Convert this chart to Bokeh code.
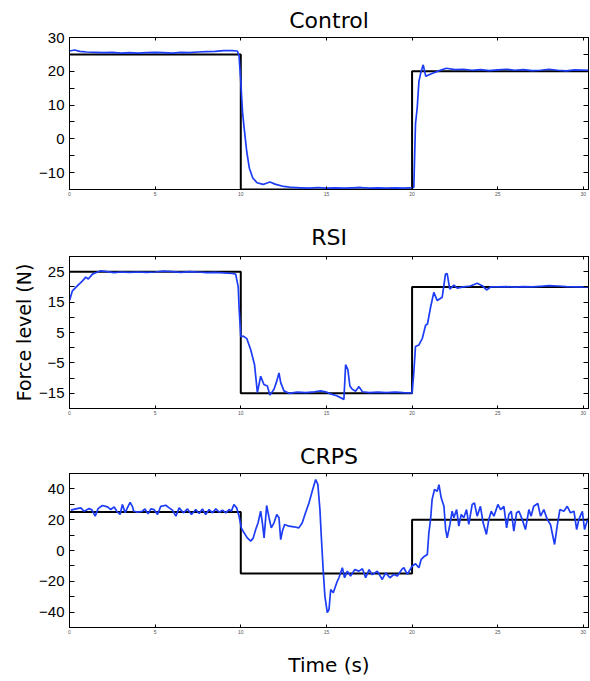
from bokeh.plotting import figure
from bokeh.models import LinearAxis, FixedTicker, Range1d
from bokeh.layouts import column
from bokeh.embed import file_html
from bokeh.resources import INLINE

# ---------------- data ----------------
x_ticks = [0, 5, 10, 15, 20, 25, 30]

step_t = [0, 10, 10, 20, 20, 30.3]
step_f = [25, 25, -15, -15, 20, 20]

ctrl_t = [0, 0.3, 0.6, 1.0, 1.5, 2.0, 2.5, 3.0, 3.5, 4.0,
          4.5, 5.0, 5.5, 6.0, 6.5, 7.0, 7.5, 8.0, 8.5, 9.0,
          9.5, 9.8, 9.9, 10.0, 10.1, 10.2, 10.35, 10.5, 10.7, 10.95,
          11.3, 11.7, 12.0, 12.5, 13.0, 13.5, 14.0, 14.5, 15.0, 15.5,
          16.0, 16.5, 17.0, 17.5, 18.0, 18.5, 19.0, 19.5, 20.1, 20.15,
          20.2, 20.3, 20.4, 20.5, 20.65, 20.8, 21.2, 21.6, 22.0, 22.5,
          23.0, 23.5, 24.0, 24.5, 25.0, 25.5, 26.0, 26.5, 27.0, 27.5,
          28.0, 28.5, 29.0, 29.5, 30.3]
ctrl_f = [26.0, 26.3, 25.9, 25.7, 25.6, 25.5, 25.6, 25.4, 25.5, 25.4,
          25.5, 25.6, 25.5, 25.4, 25.6, 25.5, 25.7, 25.8, 25.9, 26.1,
          26.1, 26.0, 24.5, 17.0, 8.0, 3.0, -3.9, -8.7, -11.6, -13.0,
          -13.5, -12.8, -13.4, -14.1, -14.4, -14.5, -14.6, -14.4, -14.6, -14.5,
          -14.6, -14.5, -14.4, -14.6, -14.5, -14.6, -14.5, -14.6, -14.4, -5.0,
          4.5, 9.2, 17.0, 19.4, 21.9, 18.5, 19.4, 20.2, 20.9, 20.5,
          20.6, 20.3, 20.5, 20.2, 20.4, 20.6, 20.3, 20.5, 20.2, 20.3,
          20.6, 20.3, 20.1, 20.4, 20.3]

rsi_t = [0, 0.17, 0.47, 0.76, 0.95, 1.1, 1.34, 1.6, 1.83, 2.2,
         2.6, 3.0, 3.5, 4.0, 4.5, 5.0, 5.5, 6.0, 6.5, 7.0,
         7.5, 8.0, 8.5, 9.0, 9.5, 9.7, 9.85, 9.9, 10.0, 10.15,
         10.35, 10.58, 10.8, 10.97, 11.16, 11.35, 11.55, 11.7, 11.94, 12.1,
         12.23, 12.33, 12.52, 12.81, 13.3, 13.8, 14.3, 14.66, 15.0, 15.24,
         15.6, 16.02, 16.12, 16.25, 16.37, 16.51, 16.7, 16.9, 17.1, 17.5,
         18.0, 18.5, 19.0, 19.5, 20.0, 20.1, 20.2, 20.4, 20.6, 20.79,
         20.9, 21.08, 21.27, 21.47, 21.76, 21.95, 22.05, 22.2, 22.44, 22.64,
         23.0, 23.4, 23.8, 24.1, 24.35, 24.6, 25.0, 25.5, 26.0, 26.5,
         27.0, 27.5, 28.0, 28.5, 29.0, 29.5, 30.3]
rsi_f = [15.5, 18.7, 20.4, 22.0, 23.2, 22.6, 24.2, 24.8, 25.3, 25.0,
         24.7, 24.9, 24.8, 24.9, 24.8, 24.9, 25.2, 25.0, 24.8, 25.0,
         24.9, 24.7, 24.8, 24.6, 24.4, 24.2, 20.0, 13.3, 3.6, 3.8,
         3.0, -0.7, -5.5, -14.8, -9.4, -12.1, -12.6, -15.6, -13.7, -11.0,
         -8.3, -11.5, -14.2, -15.0, -14.6, -14.8, -14.5, -14.2, -14.6, -15.2,
         -15.8, -17.0, -5.6, -7.2, -12.6, -13.7, -14.3, -12.8, -14.5, -14.8,
         -14.6, -14.8, -14.6, -14.8, -14.9, -8.3, 0.4, 0.9, 3.1, 7.4,
         7.8, 13.3, 18.2, 15.5, 16.6, 24.2, 24.4, 19.3, 20.6, 19.6,
         20.0, 20.3, 21.2, 20.4, 19.0, 20.0, 20.0, 20.1, 19.9, 20.1,
         20.0, 20.2, 20.4, 20.3, 20.1, 20.0, 20.0]

crps_t = [0.08, 0.37, 0.66, 0.85, 1.15, 1.3, 1.5, 1.67, 1.92, 2.22,
          2.41, 2.61, 2.76, 2.95, 3.09, 3.25, 3.38, 3.54, 3.67, 3.75,
          3.97, 4.26, 4.4, 4.59, 4.75, 4.94, 5.14, 5.33, 5.62, 5.82,
          6.01, 6.21, 6.4, 6.65, 6.89, 7.12, 7.37, 7.57, 7.76, 7.95,
          8.15, 8.35, 8.54, 8.74, 8.93, 9.12, 9.32, 9.45, 9.6, 9.76,
          9.9, 10.03, 10.19, 10.38, 10.58, 10.73, 10.87, 11.01, 11.16, 11.26,
          11.36, 11.51, 11.65, 11.78, 11.94, 12.1, 12.23, 12.33, 12.43, 12.56,
          12.81, 13.1, 13.39, 13.59, 13.78, 13.98, 14.17, 14.37, 14.5, 14.62,
          14.7, 14.81, 14.91, 15.05, 15.15, 15.25, 15.4, 15.6, 15.73, 15.93,
          16.06, 16.22, 16.41, 16.65, 16.9, 17.1, 17.29, 17.49, 17.68, 17.97,
          18.26, 18.46, 18.71, 18.94, 19.14, 19.43, 19.52, 19.72, 20.01, 20.2,
          20.4, 20.53, 20.73, 20.89, 20.98, 21.08, 21.17, 21.31, 21.47, 21.57,
          21.7, 21.86, 21.96, 22.05, 22.21, 22.34, 22.44, 22.6, 22.73, 22.87,
          23.02, 23.18, 23.31, 23.51, 23.64, 23.8, 23.99, 24.15, 24.34, 24.48,
          24.62, 24.78, 25.01, 25.17, 25.36, 25.52, 25.65, 25.79, 25.94, 26.1,
          26.24, 26.43, 26.62, 26.82, 26.95, 27.1, 27.34, 27.5, 27.69, 27.89,
          28.08, 28.32, 28.47, 28.63, 28.86, 29.06, 29.25, 29.45, 29.61, 29.74,
          29.94, 30.07, 30.19, 30.3]
crps_f = [26.2, 27.0, 27.7, 25.5, 27.2, 26.5, 22.3, 27.2, 29.2, 28.3,
          26.6, 28.3, 25.5, 23.4, 29.9, 24.5, 27.7, 31.3, 28.7, 25.5,
          24.9, 25.5, 27.0, 23.8, 27.0, 26.5, 23.4, 28.7, 29.4, 27.7,
          26.2, 22.3, 27.7, 24.5, 27.0, 23.4, 26.6, 24.0, 27.0, 23.4,
          26.6, 24.5, 27.0, 24.9, 26.2, 24.5, 26.6, 25.5, 29.9, 27.7,
          22.3, 14.7, 11.5, 8.2, 6.1, 8.2, 13.6, 18.0, 25.5, 18.0,
          8.2, 29.2, 21.3, 14.7, 18.0, 23.4, 21.3, 7.1, 12.6, 16.9,
          15.8, 15.4, 14.7, 18.0, 24.5, 30.9, 38.5, 46.1, 42.8, 26.6,
          9.3, -12.4, -29.6, -40.4, -38.3, -25.3, -27.4, -20.9, -17.7, -11.2,
          -17.7, -13.4, -16.6, -12.4, -13.4, -11.9, -17.7, -12.4, -15.7, -13.4,
          -18.8, -14.5, -17.7, -15.5, -16.6, -11.9, -11.2, -15.5, -10.1, -8.6,
          -11.2, -5.8, -3.7, -2.6, 11.5, 20.2, 33.1, 39.6, 38.5, 42.8,
          34.2, 28.8, 13.6, 8.2, 16.9, 25.5, 21.3, 26.6, 15.8, 23.4,
          21.3, 26.6, 16.9, 29.9, 30.9, 22.3, 28.7, 18.0, 10.4, 20.2,
          25.5, 22.3, 29.9, 26.6, 28.7, 14.7, 23.4, 25.5, 12.6, 24.5,
          25.5, 20.2, 13.6, 26.6, 22.3, 28.7, 30.5, 22.3, 26.6, 20.2,
          16.9, 3.9, 15.8, 26.6, 25.5, 28.7, 24.5, 25.5, 13.6, 20.2,
          25.5, 13.6, 18.0, 21.3]

ctrl_major = [-10, 0, 10, 20, 30]
ctrl_minor = [-15, -5, 5, 15, 25]
rsi_major = [-15, -5, 5, 15, 25]
rsi_minor = [-20, -10, 0, 10, 20, 30]
crps_major = [-40, -20, 0, 20, 40]
crps_minor = [-50, -30, -10, 10, 30, 50]

BLUE = "#1c3cf5"
FONT_T = "DejaVu Sans"
FONT_N = "Liberation Sans"


def panel(height, b_top, b_bottom, yr, major, minor, t, f, title, title_standoff):
    p = figure(width=590, height=height, x_range=Range1d(0, 30.3), y_range=Range1d(*yr),
               output_backend="svg", toolbar_location=None,
               min_border_left=69, min_border_right=2,
               min_border_top=b_top, min_border_bottom=b_bottom,
               x_axis_location=None, y_axis_location=None)
    p.grid.visible = False
    p.outline_line_color = "black"
    p.outline_line_width = 1
    p.background_fill_color = "white"
    p.border_fill_color = "white"

    p.title.text = title
    p.title.align = "center"
    p.title.text_font = FONT_T
    p.title.text_font_size = "22px"
    p.title.text_font_style = "normal"
    p.title.text_color = "black"
    p.title.standoff = title_standoff

    xb = LinearAxis(ticker=FixedTicker(ticks=x_ticks), major_tick_in=3, major_tick_out=0,
                    minor_tick_in=0, minor_tick_out=0, major_label_standoff=2,
                    major_label_text_font_size="5px", major_label_text_color="#555555",
                    axis_line_color="black")
    p.add_layout(xb, "below")
    xt = LinearAxis(ticker=FixedTicker(ticks=x_ticks), major_tick_in=3, major_tick_out=0,
                    minor_tick_in=0, minor_tick_out=0, major_label_standoff=0,
                    major_label_overrides={v: "" for v in x_ticks}, axis_line_color="black")
    p.add_layout(xt, "above")
    yl = LinearAxis(ticker=FixedTicker(ticks=major, minor_ticks=minor),
                    major_tick_in=5, major_tick_out=0, minor_tick_in=5, minor_tick_out=0,
                    major_label_standoff=5, major_label_text_font=FONT_N,
                    major_label_text_font_size="15px", major_label_text_color="black",
                    axis_line_color="black")
    p.add_layout(yl, "left")
    allt = sorted(major + minor)
    yrr = LinearAxis(ticker=FixedTicker(ticks=allt), major_tick_in=5, major_tick_out=0,
                     minor_tick_in=0, minor_tick_out=0, major_label_standoff=0,
                     major_label_overrides={v: "" for v in allt}, axis_line_color="black")
    p.add_layout(yrr, "right")

    p.line(step_t, step_f, line_color="black", line_width=2)
    p.line(t, f, line_color=BLUE, line_width=1.7)
    return p, xb, yl


p1, _, _ = panel(215, 37, 26, (-15, 30), ctrl_major, ctrl_minor, ctrl_t, ctrl_f, "Control", 9)
p2, _, yl2 = panel(217, 41, 24, (-20, 30), rsi_major, rsi_minor, rsi_t, rsi_f, "RSI", 13)
p3, xb3, _ = panel(249, 41, 54, (-50, 50), crps_major, crps_minor, crps_t, crps_f, "CRPS", 9)

yl2.axis_label = "Force level (N)"
yl2.axis_label_text_font = FONT_T
yl2.axis_label_text_font_size = "19px"
yl2.axis_label_text_font_style = "normal"
yl2.axis_label_text_color = "black"
yl2.axis_label_standoff = 1

xb3.axis_label = "Time (s)"
xb3.axis_label_text_font = FONT_T
xb3.axis_label_text_font_size = "20px"
xb3.axis_label_text_font_style = "normal"
xb3.axis_label_text_color = "black"
xb3.axis_label_standoff = 16

layout = column(p1, p2, p3)
open("out.html", "w").write(file_html(layout, INLINE))
